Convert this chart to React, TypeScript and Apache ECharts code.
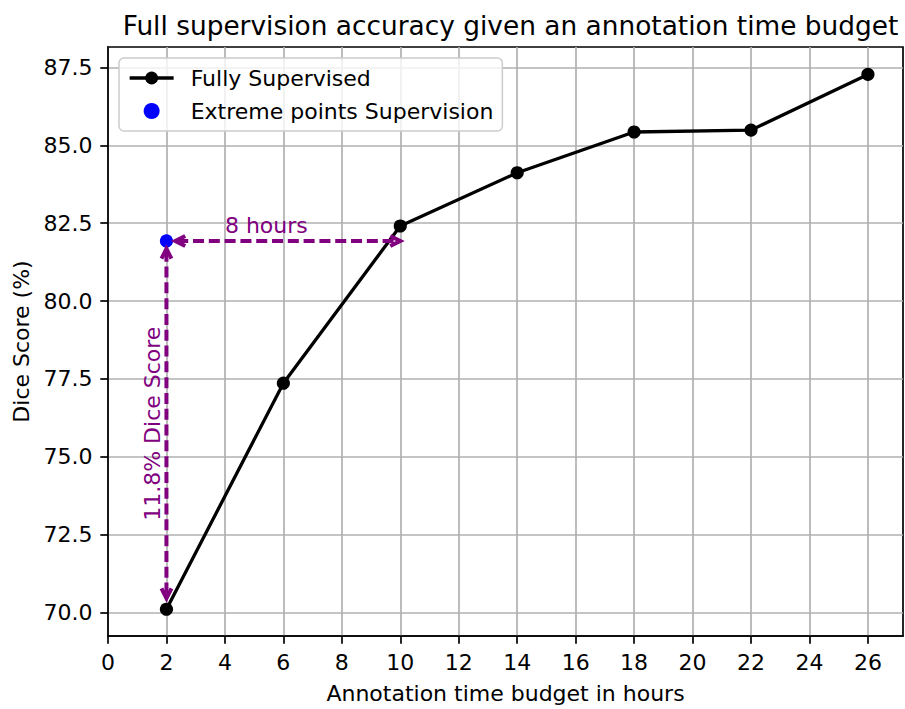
import React, { useEffect, useRef } from "react";
import * as echarts from "echarts";

// ---- data ----
const hours = [2, 6, 10, 14, 18, 22, 26];
const fullySupervised = [70.1, 77.36, 82.41, 84.12, 85.43, 85.49, 87.28];
const extremeHours = [2];
const extremeScores = [81.93];
const xTickValues = [0, 2, 4, 6, 8, 10, 12, 14, 16, 18, 20, 22, 24, 26];
const yTickValues = [70, 72.5, 75, 77.5, 80, 82.5, 85, 87.5];
// annotation arrows: [xStart, yStart, xEnd, yEnd] (visible tips)
const arrowSegments = [
  [2.3, 81.93, 10.0, 81.93],
  [2.0, 81.68, 2.0, 70.45],
];
const annotationTexts = ["8 hours", "11.8% Dice Score"];
const annotationX = [4.0, 1.53];
const annotationY = [82.43, 76.06];
const annotationRotate = [0, 90];

const PURPLE = "#800080";
const FONT = "DejaVu Sans";

export default function App() {
  const ref = useRef<HTMLDivElement>(null);

  useEffect(() => {
    if (!ref.current) return;
    const chart = echarts.init(ref.current, undefined, { renderer: "svg" });

    const headLen = 10;
    const headHalf = 5;

    const option: any = {
      animation: false,
      backgroundColor: "#ffffff",
      textStyle: { fontFamily: FONT },
      title: {
        text: "Full supervision accuracy given an annotation time budget",
        left: 505.5,
        top: 7,
        textAlign: "center",
        textStyle: { fontFamily: FONT, fontSize: 26.4, fontWeight: "normal", color: "#000" },
      },
      legend: {
        orient: "vertical",
        left: 119,
        top: 58,
        padding: [9, 9, 9, 9],
        itemGap: 11,
        itemWidth: 44,
        itemHeight: 16,
        backgroundColor: "rgba(255,255,255,0.8)",
        borderColor: "#cccccc",
        borderWidth: 1.5,
        borderRadius: 5,
        lineStyle: { width: 3.3 },
        textStyle: {
          fontFamily: FONT,
          fontSize: 22,
          color: "#000",
          lineHeight: 22,
          padding: [0, 0, 0, 12],
        },
        data: ["Fully Supervised", "Extreme points Supervision"],
      },
      grid: {
        left: 108,
        right: 2,
        top: 47,
        bottom: 70,
        show: true,
        borderColor: "#000",
        borderWidth: 1.7,
        backgroundColor: "transparent",
      },
      xAxis: {
        type: "value",
        min: 0,
        max: 27.2,
        name: "Annotation time budget in hours",
        nameLocation: "middle",
        nameGap: 46,
        nameTextStyle: { fontFamily: FONT, fontSize: 22, color: "#000", verticalAlign: "top" },
        axisLine: { show: true, onZero: false, lineStyle: { color: "#000", width: 1.7 } },
        axisTick: {
          show: true,
          inside: false,
          length: 7.7,
          lineStyle: { color: "#000", width: 1.7 },
          customValues: xTickValues,
        },
        axisLabel: {
          margin: 15,
          fontFamily: FONT,
          fontSize: 22,
          color: "#000",
          customValues: xTickValues,
          formatter: (v: number) => String(v),
        },
        splitLine: { show: true, lineStyle: { color: "#b0b0b0", width: 1.7 } },
      },
      yAxis: {
        type: "value",
        min: 69.24,
        max: 88.16,
        name: "Dice Score (%)",
        nameLocation: "middle",
        nameGap: 76,
        nameRotate: 90,
        nameTextStyle: { fontFamily: FONT, fontSize: 22, color: "#000" },
        axisLine: { show: true, onZero: false, lineStyle: { color: "#000", width: 1.7 } },
        axisTick: {
          show: true,
          inside: false,
          length: 7.7,
          lineStyle: { color: "#000", width: 1.7 },
          customValues: yTickValues,
        },
        axisLabel: {
          margin: 15.4,
          fontFamily: FONT,
          fontSize: 22,
          color: "#000",
          customValues: yTickValues,
          formatter: (v: number) => v.toFixed(1),
        },
        splitLine: { show: true, lineStyle: { color: "#b0b0b0", width: 1.7 } },
      },
      series: [
        {
          name: "Fully Supervised",
          type: "line",
          data: hours.map((h, i) => [h, fullySupervised[i]]),
          symbol: "circle",
          symbolSize: 13.2,
          itemStyle: { color: "#000", opacity: 1 },
          lineStyle: { color: "#000", width: 3.3 },
          z: 3,
        },
        {
          name: "Extreme points Supervision",
          type: "scatter",
          data: extremeHours.map((h, i) => [h, extremeScores[i]]),
          symbol: "circle",
          symbolSize: 13.2,
          itemStyle: { color: "#0000ff", opacity: 1 },
          z: 3,
        },
        {
          type: "custom",
          data: arrowSegments,
          z: 4,
          silent: true,
          renderItem: (_params: any, api: any) => {
            const a = api.coord([api.value(0), api.value(1)]);
            const b = api.coord([api.value(2), api.value(3)]);
            const dx = b[0] - a[0];
            const dy = b[1] - a[1];
            const len = Math.hypot(dx, dy) || 1;
            const ux = dx / len;
            const uy = dy / len;
            const head = (tip: number[], dirx: number, diry: number) => {
              const px = -diry;
              const py = dirx;
              return [
                [tip[0] + dirx * headLen + px * headHalf, tip[1] + diry * headLen + py * headHalf],
                [tip[0], tip[1]],
                [tip[0] + dirx * headLen - px * headHalf, tip[1] + diry * headLen - py * headHalf],
              ];
            };
            const style = { stroke: PURPLE, lineWidth: 4, fill: null };
            return {
              type: "group",
              children: [
                {
                  type: "line",
                  shape: { x1: a[0] + ux * 2, y1: a[1] + uy * 2, x2: b[0] - ux * 2, y2: b[1] - uy * 2 },
                  style: { ...style, lineDash: [11, 4.8] },
                },
                { type: "polyline", shape: { points: head(a, ux, uy) }, style },
                { type: "polyline", shape: { points: head(b, -ux, -uy) }, style },
              ],
            };
          },
        },
        {
          type: "custom",
          data: annotationTexts.map((t, i) => [annotationX[i], annotationY[i], annotationRotate[i]]),
          z: 5,
          silent: true,
          renderItem: (params: any, api: any) => {
            const p = api.coord([api.value(0), api.value(1)]);
            const rot = api.value(2);
            return {
              type: "text",
              x: p[0],
              y: p[1],
              rotation: (rot * Math.PI) / 180,
              style: {
                text: annotationTexts[params.dataIndex],
                fill: PURPLE,
                font: `22px "${FONT}"`,
                align: rot ? "center" : "left",
                verticalAlign: "middle",
              },
            };
          },
        },
      ],
    };

    chart.setOption(option);
    return () => chart.dispose();
  }, []);

  return (
    <div
      ref={ref}
      style={{ position: "absolute", left: 0, top: 0, width: 905, height: 709 }}
    />
  );
}
